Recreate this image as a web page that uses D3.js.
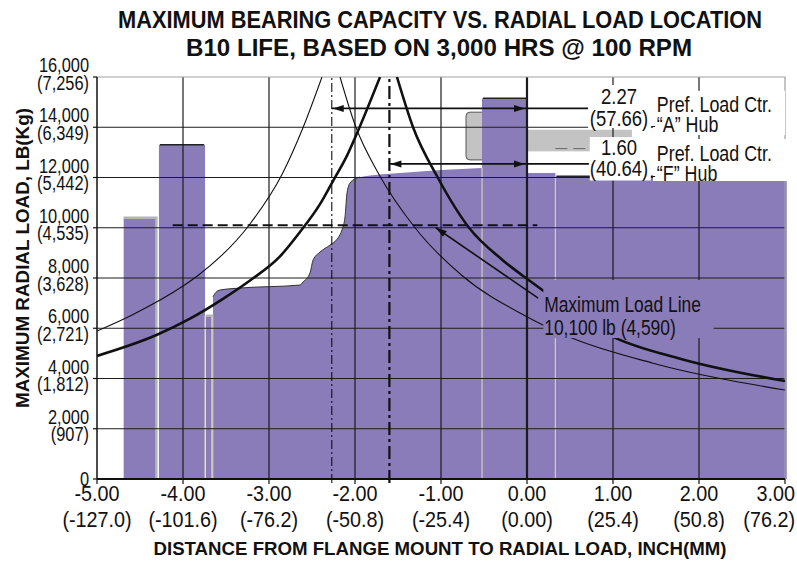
<!DOCTYPE html>
<html>
<head>
<meta charset="utf-8">
<script src="https://cdn.jsdelivr.net/npm/d3@7.9.0/dist/d3.min.js"></script>
<style>
  body { margin: 0; background: #fff; }
  text { font-family: "Liberation Sans", Arial, sans-serif; fill: #111; }
</style>
</head>
<body>
<svg id="chart" width="797" height="562"></svg>
<script>
// axis ticks
const xTicks = [-5, -4, -3, -2, -1, 0, 1, 2, 3];
const xTickInch = ['-5.00', '-4.00', '-3.00', '-2.00', '-1.00', '0.00', '1.00', '2.00', '3.00'];
const xTickMM = ['(-127.0)', '(-101.6)', '(-76.2)', '(-50.8)', '(-25.4)', '(0.00)', '(25.4)', '(50.8)', '(76.2)'];
const yTicks = [0, 2000, 4000, 6000, 8000, 10000, 12000, 14000, 16000];
const yTickLb = ['0', '2,000', '4,000', '6,000', '8,000', '10,000', '12,000', '14,000', '16,000'];
const yTickKg = ['', '(907)', '(1,812)', '(2,721)', '(3,628)', '(4,535)', '(5,442)', '(6,349)', '(7,256)'];

// bearing capacity blocks: start / end (inch), capacity (lb)
const blockStart = [-4.69, -4.28, -3.733, -0.523, 0.0, 0.33];
const blockEnd = [-4.31, -3.744, -3.66, 0.0, 0.33, 3.02];
const blockLoad = [10400, 13300, 6500, 15150, 12180, 12050];

// shaped capacity profile between the blocks
const profileX = [-3.651, -3.62, -3.57, -3.337, -2.64, -2.605, -2.523, -2.488, -2.407, -2.291, -2.198, -2.151,
  -2.14, -2.116, -2.093, -2.058, -2.0, -1.942, -1.477, -0.523];
const profileLoad = [7250, 7420, 7520, 7600, 7720, 7840, 8200, 8710, 9030, 9310, 9590, 9910,
  10030, 10430, 11380, 11780, 11940, 12020, 12180, 12380];

// load curves
const thinLeftX = [-5.0, -4.58, -4.0, -3.826, -3.221, -2.849, -2.605, -2.384];
const thinLeftLoad = [5890, 6550, 7680, 8100, 10150, 12120, 13980, 16000];
const thickLeftX = [-5.0, -4.302, -3.919, -3.535, -3.221, -2.872, -2.640, -2.407, -2.256, -2.093, -1.977, -1.709];
const thickLeftLoad = [4900, 5740, 6380, 7170, 7900, 8860, 9830, 10940, 11860, 12870, 13760, 16000];
const thickRightX = [-1.512, -1.326, -1.035, -0.674, -0.279, 0.035, 0.186, 0.977, 1.791, 3.0];
const thickRightLoad = [16000, 14010, 11980, 10000, 8700, 7880, 7500, 5700, 4780, 3900];
const thinRightX = [-2.174, -2.0, -1.709, -1.302, -0.756, -0.023, 0.174, 0.5, 1.465, 3.0];
const thinRightLoad = [16000, 14100, 12050, 10000, 8100, 6500, 6150, 5640, 4610, 3540];

// maximum load line
const maxLoad = 10100;
const maxLoadFrom = -4.12;
const maxLoadTo = 0.12;

// preferred load centres
const prefCenter = [-2.27, -1.60];
const prefArrowLoad = [14750, 12540];
const prefInch = ['2.27', '1.60'];
const prefMM = ['(57.66)', '(40.64)'];
const prefHub = ['\u201CA\u201D Hub', '\u201CF\u201D Hub'];

const purple = '#8a7bb9';
const svg = d3.select('#chart');

let x = d3.scaleLinear().domain([-5, 3]).range([97, 785]);
let y = d3.scaleLinear().domain([0, 16000]).range([479, 77]);

// condensed text: regular face squeezed horizontally
function addText(px, py, str, size, opts = {}) {
    let t = svg.append('text')
       .attr('transform', `translate(${px},${py}) scale(${opts.sx || 0.82},1)`)
       .attr('font-size', size)
       .attr('text-anchor', opts.anchor || 'start')
       .text(str);
    if (opts.bold) t.attr('font-weight', 'bold');
    return t;
}

svg.append('defs').append('clipPath').attr('id', 'plot')
   .append('rect')
   .attr('x', x(-5)).attr('y', y(16000))
   .attr('width', x(3.05) - x(-5)).attr('height', y(0) - y(16000));

// grey hub outline behind the capacity blocks
svg.append('rect')
   .attr('x', x(-0.709)).attr('y', y(14600))
   .attr('width', x(0) - x(-0.709)).attr('height', y(12700) - y(14600))
   .attr('rx', 4)
   .attr('fill', '#c3c3c3').attr('stroke', '#555').attr('stroke-width', 1);
svg.append('rect')
   .attr('x', x(0)).attr('y', y(13900))
   .attr('width', x(1.22) - x(0)).attr('height', y(13040) - y(13900))
   .attr('fill', '#c3c3c3');
svg.append('line')
   .attr('x1', x(0.33)).attr('x2', x(0.72))
   .attr('y1', y(13150)).attr('y2', y(13150))
   .attr('stroke', '#666').attr('stroke-width', 1).attr('stroke-dasharray', '12,6');

// capacity blocks
blockLoad.forEach((v, i) => {
    svg.append('rect')
       .attr('x', x(blockStart[i]))
       .attr('y', y(v))
       .attr('width', x(blockEnd[i]) - x(blockStart[i]))
       .attr('height', y(0) - y(v))
       .attr('fill', purple);
});

let profile = profileX.map((d, i) => [d, profileLoad[i]]);
svg.append('path')
   .attr('d', d3.area().x(d => x(d[0])).y0(y(0)).y1(d => y(d[1])).curve(d3.curveMonotoneX)(profile))
   .attr('fill', purple);
svg.append('path')
   .attr('d', d3.line().x(d => x(d[0])).y(d => y(d[1])).curve(d3.curveMonotoneX)(profile.slice(0, 18)))
   .attr('fill', 'none').attr('stroke', '#333').attr('stroke-width', 1);

// grey edges on the small blocks
[0, 2].forEach(i => {
    svg.append('path')
       .attr('d', `M${x(blockStart[i])},${y(blockLoad[i])}H${x(blockEnd[i])}V${y(0)}`)
       .attr('fill', 'none').attr('stroke', '#b4b4b4').attr('stroke-width', 2.5);
});
// dark tops on the other blocks
[1, 3, 5].forEach(i => {
    svg.append('line')
       .attr('x1', x(blockStart[i]) + 1).attr('x2', x(blockEnd[i]) - 1)
       .attr('y1', y(blockLoad[i])).attr('y2', y(blockLoad[i]))
       .attr('stroke', '#222').attr('stroke-width', 1.5);
});
// light seams between blocks
[[blockEnd[1], blockLoad[2]], [blockEnd[2], blockLoad[2]], [blockStart[3], profileLoad[19]], [blockStart[5], blockLoad[5]]]
    .forEach(([sx, top]) => {
        svg.append('line')
           .attr('x1', x(sx)).attr('x2', x(sx))
           .attr('y1', y(top)).attr('y2', y(0))
           .attr('stroke', '#d4cdb6').attr('stroke-width', 1.2);
    });

// grid
yTicks.slice(1, 8).forEach(v => {
    svg.append('line')
       .attr('x1', x(-5)).attr('x2', x(3))
       .attr('y1', y(v)).attr('y2', y(v))
       .attr('stroke', '#1c1c1c').attr('stroke-width', 1.2);
});
xTicks.slice(1, 8).forEach(v => {
    svg.append('line')
       .attr('x1', x(v)).attr('x2', x(v))
       .attr('y1', y(0)).attr('y2', y(16000))
       .attr('stroke', '#1c1c1c').attr('stroke-width', v === 0 ? 2.2 : 1.2);
});
svg.append('path')
   .attr('d', `M${x(-5)},${y(16000)}H${x(3)}V${y(0)}`)
   .attr('fill', 'none').attr('stroke', '#a0a0a0').attr('stroke-width', 1.2);

// maximum load line
svg.append('line')
   .attr('x1', x(maxLoadFrom)).attr('x2', x(maxLoadTo))
   .attr('y1', y(maxLoad)).attr('y2', y(maxLoad))
   .attr('stroke', '#111').attr('stroke-width', 1.8).attr('stroke-dasharray', '10,5');

// preferred load centre lines
prefCenter.forEach((c, i) => {
    svg.append('line')
       .attr('x1', x(c)).attr('x2', x(c))
       .attr('y1', y(0) + 4).attr('y2', y(16000))
       .attr('stroke', '#111')
       .attr('stroke-width', i === 0 ? 1.1 : 2.2)
       .attr('stroke-dasharray', i === 0 ? '9,3,2,3' : '13,4,3,4');
});

// load curves
let curve = d3.line().x(d => x(d[0])).y(d => y(d[1])).curve(d3.curveMonotoneX);
let curves = [
    [thinLeftX, thinLeftLoad, 1.1],
    [thickLeftX, thickLeftLoad, 2.6],
    [thickRightX, thickRightLoad, 2.6],
    [thinRightX, thinRightLoad, 1.1]
];
curves.forEach(([cx, cy, w]) => {
    svg.append('path')
       .attr('d', curve(cx.map((d, i) => [d, cy[i]])))
       .attr('clip-path', 'url(#plot)')
       .attr('fill', 'none').attr('stroke', '#111').attr('stroke-width', w);
});

function arrowHead(tx, ty, angle) {
    let len = 11, half = 3.5;
    let c = Math.cos(angle), s = Math.sin(angle);
    let bx = tx - c * len, by = ty - s * len;
    svg.append('path')
       .attr('d', `M${tx},${ty}L${bx - s * half},${by + c * half}L${bx + s * half},${by - c * half}Z`)
       .attr('fill', '#111');
}

// dimension arrows to the preferred load centres
prefCenter.forEach((c, i) => {
    let ay = y(prefArrowLoad[i]);
    svg.append('line')
       .attr('x1', x(c)).attr('x2', x(0.72))
       .attr('y1', ay).attr('y2', ay)
       .attr('stroke', '#111').attr('stroke-width', 1.8);
    arrowHead(x(c) + 1, ay, Math.PI);
    arrowHead(x(0) - 2, ay, 0);
});

// arrow from the label to the maximum load line
let a0 = [x(0.13), y(7200)], a1 = [x(-1.06), y(10000)];
svg.append('line')
   .attr('x1', a0[0]).attr('y1', a0[1]).attr('x2', a1[0]).attr('y2', a1[1])
   .attr('stroke', '#111').attr('stroke-width', 1.6);
arrowHead(a1[0], a1[1], Math.atan2(a1[1] - a0[1], a1[0] - a0[0]));

// label boxes
svg.append('rect')
   .attr('x', x(0.19)).attr('y', y(7920))
   .attr('width', x(2.17) - x(0.19)).attr('height', y(5610) - y(7920))
   .attr('fill', purple);
[[0.71, 1.44, 15680, 13970], [0.73, 1.44, 13610, 11880], [1.465, 3.0, 15450, 13690], [1.465, 3.03, 13530, 11860]]
    .forEach(([bx0, bx1, by0, by1]) => {
        svg.append('rect')
           .attr('x', x(bx0)).attr('y', y(by0))
           .attr('width', x(bx1) - x(bx0)).attr('height', y(by1) - y(by0))
           .attr('fill', '#fff');
    });

addText(x(0.2), y(6650), 'Maximum Load Line', 21.5, { sx: 0.81 });
addText(x(0.2), y(5730), '10,100 lb (4,590)', 21.5, { sx: 0.81 });

let prefBase = [[104, 125.5, 112, 132], [154.5, 175.5, 161, 180.5]];
prefCenter.forEach((c, i) => {
    let b = prefBase[i];
    addText(x(1.07), b[0], prefInch[i], 22, { anchor: 'middle', sx: 0.84 });
    addText(x(1.07), b[1], prefMM[i], 22, { anchor: 'middle', sx: 0.84 });
    addText(x(1.51), b[2], 'Pref. Load Ctr.', 21.5, { sx: 0.83 });
    addText(x(1.51), b[3], prefHub[i], 21.5, { sx: 0.83 });
    svg.append('line')
       .attr('x1', x(1.445)).attr('x2', x(1.49))
       .attr('y1', b[1] + 1).attr('y2', b[1] + 1)
       .attr('stroke', '#111').attr('stroke-width', 1);
});

// axes
svg.append('line')
   .attr('x1', x(-5)).attr('x2', x(-5)).attr('y1', y(0)).attr('y2', y(16000))
   .attr('stroke', '#111').attr('stroke-width', 1.5);
svg.append('line')
   .attr('x1', x(-5)).attr('x2', x(3)).attr('y1', y(0)).attr('y2', y(0))
   .attr('stroke', '#111').attr('stroke-width', 2);
xTicks.forEach((v, i) => {
    svg.append('line')
       .attr('x1', x(v)).attr('x2', x(v)).attr('y1', y(0)).attr('y2', y(0) + 5)
       .attr('stroke', '#111').attr('stroke-width', 1.2);
    let last = i === xTicks.length - 1;
    let lx = last ? 795 : x(v);
    let anchor = last ? 'end' : 'middle';
    addText(lx, 501, xTickInch[i], 22, { anchor: anchor, sx: 0.9 });
    addText(lx, 527, xTickMM[i], 22, { anchor: anchor, sx: 0.9 });
});
yTicks.forEach((v, i) => {
    svg.append('line')
       .attr('x1', x(-5) - 4).attr('x2', x(-5)).attr('y1', y(v)).attr('y2', y(v))
       .attr('stroke', '#111').attr('stroke-width', 1.2);
    addText(89, v === 0 ? y(v) + 7 : y(v) - 5, yTickLb[i], 20.5, { anchor: 'end', sx: 0.8 });
    if (yTickKg[i]) {
        addText(89, y(v) + 12.5, yTickKg[i], 20.5, { anchor: 'end', sx: 0.8 });
    }
});

// titles
svg.append('text').attr('x', 440).attr('y', 28)
   .attr('text-anchor', 'middle').attr('font-size', 23).attr('font-weight', 'bold')
   .attr('textLength', 644).attr('lengthAdjust', 'spacingAndGlyphs')
   .text('MAXIMUM BEARING CAPACITY VS. RADIAL LOAD LOCATION');
svg.append('text').attr('x', 439).attr('y', 56)
   .attr('text-anchor', 'middle').attr('font-size', 23).attr('font-weight', 'bold')
   .attr('textLength', 506).attr('lengthAdjust', 'spacingAndGlyphs')
   .text('B10 LIFE, BASED ON 3,000 HRS @ 100 RPM');
svg.append('text').attr('x', 440).attr('y', 555)
   .attr('text-anchor', 'middle').attr('font-size', 19).attr('font-weight', 'bold')
   .attr('textLength', 573).attr('lengthAdjust', 'spacingAndGlyphs')
   .text('DISTANCE FROM FLANGE MOUNT TO RADIAL LOAD, INCH(MM)');
svg.append('text')
   .attr('transform', 'translate(29,258) rotate(-90)')
   .attr('text-anchor', 'middle').attr('font-size', 19).attr('font-weight', 'bold')
   .attr('textLength', 300).attr('lengthAdjust', 'spacingAndGlyphs')
   .text('MAXIMUM RADIAL LOAD, LB(Kg)');
</script>
</body>
</html>
